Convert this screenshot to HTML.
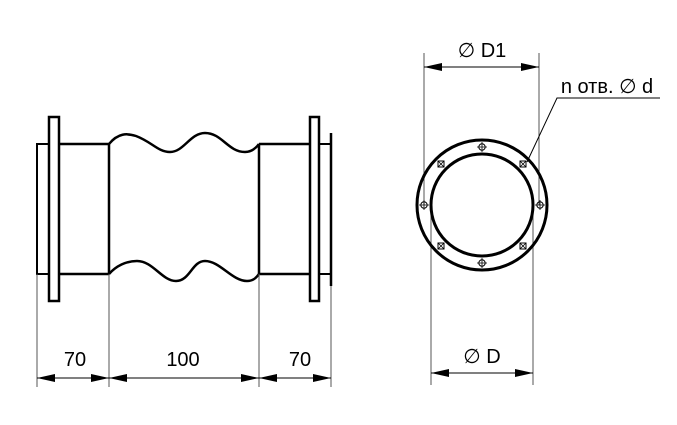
<!DOCTYPE html>
<html><head><meta charset="utf-8"><style>html,body{margin:0;padding:0;background:#fff}svg{display:block}</style></head>
<body>
<svg width="677" height="425" viewBox="0 0 677 425" xmlns="http://www.w3.org/2000/svg" font-family="Liberation Sans, DejaVu Sans, sans-serif">
<defs>
<marker id="a" viewBox="0 0 18 8" refX="18" refY="4" markerWidth="18" markerHeight="8" markerUnits="userSpaceOnUse" orient="auto-start-reverse"><path d="M0,0 L18,4 L0,8 Z" fill="#000"/></marker>
<g id="bc"><circle r="3.2" fill="none" stroke="#000" stroke-width="1"/><path d="M-5,0H5M0,-5V5" stroke="#000" stroke-width="0.8"/></g>
<g id="bs"><rect x="-3" y="-3" width="6" height="6" fill="none" stroke="#000" stroke-width="1"/><path d="M-3,-3L3,3M3,-3L-3,3" stroke="#000" stroke-width="0.8"/></g>
</defs>
<g fill="none" stroke="#000" stroke-width="2.5">
<rect x="37" y="144" width="12" height="130" stroke-width="2"/>
<rect x="49" y="117" width="10" height="184"/>
<path d="M59,144H109M59,274H109"/>
<path d="M109,144V274"/>
<path d="M109,144 C118,133 127,133 136,136 C152,142 158,152 170,152 C184,152 190,133 205,133 C222,133 228,152 245,152 C252,152 256,148 259,144"/>
<path d="M109,274 C116,266 126,261 137,261 C153,261 162,281 176,281 C190,281 192,261 205,261 C220,261 232,281 247,281 C253,281 256,278 259,274"/>
<path d="M259,144V274"/>
<path d="M259,144H310M259,274H310"/>
<rect x="310" y="117" width="9" height="184"/>
<path d="M319,144H331M319,274H331" stroke-width="2"/>
<path d="M331,133V286"/>
</g>
<g stroke="#555" stroke-width="1" fill="none">
<path d="M37,274V387M109,274V387M259,274V387M331,286V387"/>
<path d="M424,53V205M539,53V205M431,205V385M533,205V385"/>
</g>
<g stroke="#000" stroke-width="1" fill="none">
<path d="M37,378H109" marker-start="url(#a)" marker-end="url(#a)"/>
<path d="M109,378H259" marker-start="url(#a)" marker-end="url(#a)"/>
<path d="M259,378H331" marker-start="url(#a)" marker-end="url(#a)"/>
<path d="M424,67H539" marker-start="url(#a)" marker-end="url(#a)"/>
<path d="M431,373H533" marker-start="url(#a)" marker-end="url(#a)"/>
<path d="M660,98H557L527,162"/>
</g>
<circle cx="482" cy="205" r="65" fill="none" stroke="#000" stroke-width="3"/>
<circle cx="482" cy="205" r="51" fill="none" stroke="#000" stroke-width="3"/>
<use href="#bc" x="482" y="147"/><use href="#bc" x="482" y="263"/>
<use href="#bc" x="424" y="205"/><use href="#bc" x="540" y="205"/>
<use href="#bs" x="441" y="164"/><use href="#bs" x="523" y="164"/>
<use href="#bs" x="441" y="246"/><use href="#bs" x="523" y="246"/>
<g font-size="20" fill="#000" text-anchor="middle">
<text x="75" y="366">70</text>
<text x="183" y="366">100</text>
<text x="300" y="366">70</text>
<text x="482" y="57">∅ D1</text>
<text x="482" y="363">∅ D</text>
<text x="607" y="93">n отв. ∅ d</text>
</g>
</svg>
</body></html>
